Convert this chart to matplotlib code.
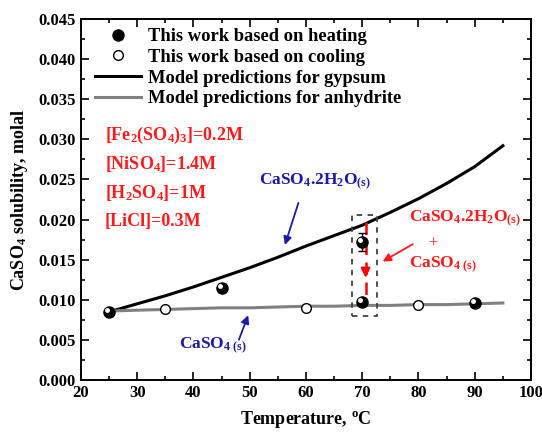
import numpy as np
import matplotlib
matplotlib.use("Agg")
import matplotlib.pyplot as plt
import matplotlib.transforms as mtransforms
from matplotlib.ticker import MultipleLocator, FormatStrFormatter

plt.rcParams['font.family'] = 'Liberation Serif'
plt.rcParams['font.weight'] = 'bold'
plt.rcParams['axes.labelweight'] = 'bold'
plt.rcParams['mathtext.fontset'] = 'custom'
plt.rcParams['mathtext.rm'] = 'Liberation Serif:bold'
plt.rcParams['mathtext.it'] = 'Liberation Serif:italic:bold'
plt.rcParams['mathtext.bf'] = 'Liberation Serif:bold'

# measured points
heat_T = [25, 45, 70, 70, 90]
heat_s = [0.0085, 0.0115, 0.0172, 0.0097, 0.0096]
heat_err = [0.0003, 0.0005, 0.0011, 0.0003, 0.0004]
cool_T = [35, 60, 80]
cool_s = [0.0088, 0.0090, 0.0094]
cool_err = [0.0003, 0.0003, 0.0003]

# model curves
model_T = [25, 30, 35, 40, 45, 50, 55, 60, 65, 70, 75, 80, 85, 90, 95]
gypsum = [0.0085, 0.0095, 0.0105, 0.0116, 0.0128, 0.0140, 0.0153, 0.0167,
          0.0180, 0.0193, 0.0209, 0.0226, 0.0245, 0.0266, 0.0292]
anhydrite = [0.0086, 0.0087, 0.0088, 0.0089, 0.0090, 0.0090, 0.0091, 0.0092,
             0.0092, 0.0093, 0.0093, 0.0094, 0.0094, 0.0095, 0.0096]

fig = plt.figure(figsize=(5.42, 4.34), dpi=100)
ax = fig.add_axes([0.1494, 0.1244, 0.8303, 0.8318])

ax.plot(model_T, gypsum, color='black', lw=2.2, label='Model predictions for gypsum', zorder=2)
ax.plot(model_T, anhydrite, color='#808080', lw=2.2, label='Model predictions for anhydrite', zorder=2)

ax.errorbar(cool_T, cool_s, yerr=cool_err, fmt='o', mfc='white', mec='black', ms=7,
            mew=1.0, ecolor='black', elinewidth=1, capsize=3, zorder=4)
ax.errorbar(heat_T, heat_s, yerr=heat_err, fmt='o', color='black', ms=8,
            ecolor='black', elinewidth=1, capsize=3, zorder=4)
# little highlight to mimic the shaded spheres
hl = ax.transData + mtransforms.ScaledTranslation(-1.5 / 72, 1.5 / 72, fig.dpi_scale_trans)
ax.plot(heat_T, heat_s, 'o', color='white', ms=2.5, transform=hl, zorder=5)

# legend proxies
h1, = ax.plot([], [], 'o', color='black', ms=8)
h2, = ax.plot([], [], 'o', mfc='white', mec='black', ms=7)
lines = ax.get_lines()
leg = ax.legend([h1, h2, lines[0], lines[1]],
                ['This work based on heating', 'This work based on cooling',
                 'Model predictions for gypsum', 'Model predictions for anhydrite'],
                loc='upper left', bbox_to_anchor=(0.01, 1.0), frameon=False,
                fontsize=13.3, handlelength=2.5, handletextpad=0.4,
                labelspacing=0.2, borderaxespad=0.1)

# dashed box around the 70 C points
ax.plot([68.2, 72.6, 72.6, 68.2, 68.2], [0.0080, 0.0080, 0.0206, 0.0206, 0.0080],
        ls=(0, (3, 3)), color='#404040', lw=1.3, zorder=3)
ax.plot([70.6, 70.6], [0.0197, 0.0098], ls=(0, (5, 3)), color='red', lw=1.8, zorder=3)
ax.annotate('', xy=(70.6, 0.0124), xytext=(70.6, 0.0140),
            arrowprops=dict(arrowstyle='-|>', color='red', lw=1.5, mutation_scale=14))

red = '#ff1a1a'
ax.annotate('', xy=(73.2, 0.0146), xytext=(79.4, 0.0171),
            arrowprops=dict(arrowstyle='-|>', color=red, lw=1.3, mutation_scale=12))
ax.text(78.4, 0.0201, r'CaSO$_4$.2H$_2$O$_{\mathrm{(s)}}$', color=red, fontsize=12.5, va='center')
ax.text(82.6, 0.0170, '+', color=red, fontsize=12, va='center', ha='center', fontweight='normal')
ax.text(78.4, 0.0143, r'CaSO$_{4\ \mathrm{(s)}}$', color=red, fontsize=12.5, va='center')

conds = [r'[Fe$_2$(SO$_4$)$_3$]=0.2M', r'[NiSO$_4$]=1.4M', r'[H$_2$SO$_4$]=1M', '[LiCl]=0.3M']
for i, c in enumerate(conds):
    ax.text(24.2, 0.0305 - i * 0.0036, c, color=red, fontsize=13, va='center')

blue = '#1a1aa6'
ax.text(51.7, 0.0247, r'CaSO$_4$.2H$_2$O$_{\mathrm{(s)}}$', color=blue, fontsize=12.5, va='center')
ax.annotate('', xy=(56.1, 0.0165), xytext=(58.8, 0.0224),
            arrowprops=dict(arrowstyle='-|>', color=blue, lw=1.3, mutation_scale=12))
ax.text(37.5, 0.0043, r'CaSO$_{4\ \mathrm{(s)}}$', color=blue, fontsize=12.5, va='center')
ax.annotate('', xy=(49.9, 0.0084), xytext=(47.9, 0.0047),
            arrowprops=dict(arrowstyle='-|>', color=blue, lw=1.3, mutation_scale=12))

ax.set_xlim(20, 100)
ax.set_ylim(0, 0.045)
ax.xaxis.set_major_locator(MultipleLocator(10))
ax.xaxis.set_minor_locator(MultipleLocator(5))
ax.yaxis.set_major_locator(MultipleLocator(0.005))
ax.yaxis.set_minor_locator(MultipleLocator(0.0025))
ax.yaxis.set_major_formatter(FormatStrFormatter('%.3f'))
ax.tick_params(which='both', direction='in', top=True, right=True, width=1.2, labelsize=12)
ax.tick_params(which='major', length=6)
ax.tick_params(which='minor', length=3)
for lab in ax.get_xticklabels() + ax.get_yticklabels():
    lab.set_fontweight('bold')
for s in ax.spines.values():
    s.set_linewidth(1.4)

ax.set_xlabel(r'Temperature, $^{\mathrm{o}}$C', fontsize=13, fontweight='bold', labelpad=6)
ax.set_ylabel(r'CaSO$_4$ solubility, molal', fontsize=13, fontweight='bold', labelpad=6)

fig.savefig('out.png', dpi=100)
